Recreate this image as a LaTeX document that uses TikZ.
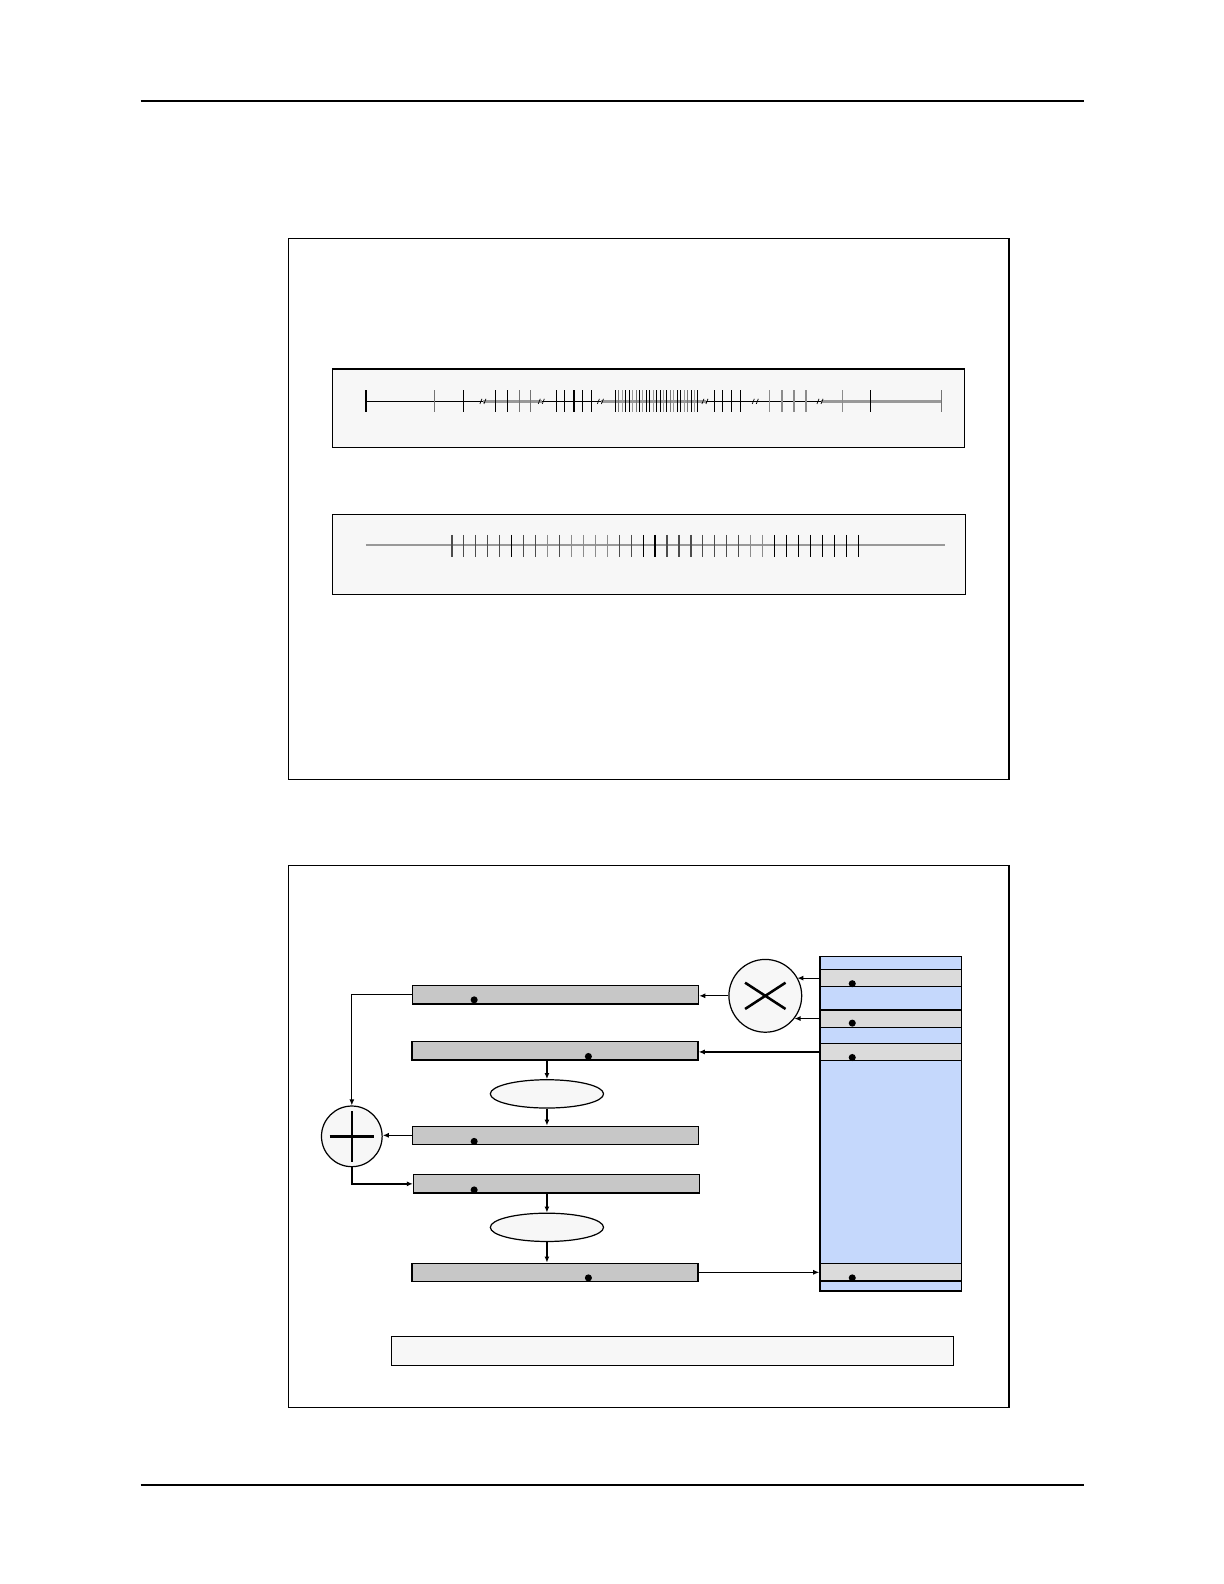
\documentclass[tikz,border=0pt]{standalone}
\usepackage{tikz}
\usetikzlibrary{calc,positioning,shapes.geometric,arrows.meta}
\definecolor{storeblue}{RGB}{197,216,252}
\def\brk(#1,#2){\draw[line width=0.7pt] (#1-3.5,#2+2.5) -- (#1-1.5,#2-2.5) (#1+0.5,#2+2.5) -- (#1+2.5,#2-2.5);}
\tikzset{
	bar/.style={draw, line width=1.2pt, fill=black!22, minimum width=283pt, minimum height=18pt, inner sep=0pt},
	band/.style={draw, line width=1.2pt, fill=black!14, minimum width=140pt, minimum height=17pt, inner sep=0pt},
	oval/.style={draw, line width=1.2pt, ellipse, fill=black!3, minimum width=112pt, minimum height=28pt, inner sep=0pt},
	op/.style={draw, line width=1.2pt, circle, fill=black!3, minimum size=#1, inner sep=0pt},
	arr/.style={line width=1.2pt, -{Latex[length=6pt,width=5pt]}},
}
\begin{document}
\begin{tikzpicture}[x=1pt, y=-1pt]
			%%%%% START %%%%%
			\useasboundingbox (0,0) rectangle (1210.7,1566.8);
			
			\draw[line width=1.3pt] (139,100) -- (1072,100);
			\draw[line width=1.3pt] (139,1469) -- (1072,1469);
			
			\node[draw, line width=1.1pt, minimum width=713pt, minimum height=535pt, inner sep=0pt] (frameA) at (641.5,503.5) {};
			\node[draw, line width=1.1pt, minimum width=713pt, minimum height=536pt, inner sep=0pt] (frameB) at (641.5,1124) {};
			
			%%%%% strips %%%%%
			\node[draw, line width=1.2pt, fill=black!3, minimum width=625pt, minimum height=78pt, inner sep=0pt] (stripA) at (641.5,404) {};
			\node[draw, line width=1.2pt, fill=black!3, minimum width=626pt, minimum height=79pt, inner sep=0pt] (stripB) at (642,548.5) {};
			
			\draw[line width=1.2pt] (362,397) -- (478,397);
			\draw[line width=2.4pt, color=black!40] (478,397) -- (536,397);
			\draw[line width=1.2pt] (536,397) -- (594,397);
			\draw[line width=2.4pt, color=black!40] (594,397) -- (698,397);
			\draw[line width=1.2pt] (698,397) -- (812,397);
			\draw[line width=2.4pt, color=black!40] (812,397) -- (931,397);
			
			\foreach \x/\k in {362/100, 429.6/55, 458.3/100, 490.1/100, 502.1/100, 514/55, 525.1/55, 550.6/100, 558.6/100, 567.7/100, 576.5/100, 584.8/100, 707/100, 714.9/100, 723.7/100, 732.8/100, 761.5/45, 773.4/45, 785.4/45, 797.3/45, 833.1/45, 861/100, 931/55}
				\draw[line width=1.2pt, color=black!\k] (\x,386) -- (\x,408);
			\foreach \i in {0,...,24}{
				\pgfmathtruncatemacro\k{mod(\i,3)==2 ? 40 : (mod(\i,5)==1 ? 55 : 100)}
				\draw[line width=1pt, color=black!\k] (608.7+\i*3.4,386) -- (608.7+\i*3.4,408);
			}
			\foreach \x in {478.2,535.9,594.4,697.8,747.6,811.6}{
				\brk(\x,397)
			}
			
			\draw[line width=2.4pt, color=black!40] (362,539) -- (935,539);
			\foreach \i in {0,...,34}{
				\pgfmathtruncatemacro\k{(\i==8 || \i==10 || \i==11 || \i==12 || \i==13 || \i==25 || \i==26) ? 45 : ((\i==5 || \i==16 || \i==17 || \i>26) ? 100 : 70)}
				\draw[line width=1.2pt, color=black!\k] (447+\i*11.82,529) -- (447+\i*11.82,551);
			}
			
			%%%%% store %%%%%
			\node[draw, line width=1.2pt, fill=storeblue, minimum width=140pt, minimum height=331pt, inner sep=0pt] (store) at (881,1111.5) {};
			\node[band] (band1) at (881,967.5) {};
			\node[band] (band2) at (881,1007.5) {};
			\node[band] (band3) at (881,1040.5) {};
			\node[band] (band4) at (881,1258.5) {};
			\foreach \y in {973,1012,1046,1264}
				\fill (843,\y) circle (3.5);
			
			%%%%% bars %%%%%
			\node[bar] (barA) at (549.5,984) {};
			\node[bar] (barB) at (549,1039.5) {};
			\node[bar] (barC) at (549.5,1123) {};
			\node[bar] (barD) at (550.5,1171) {};
			\node[bar] (barE) at (549,1258.5) {};
			\node[oval] (oval1) at (541,1082) {};
			\node[oval] (oval2) at (541,1214) {};
			\fill (469,989) circle (3.5);
			\fill (582,1045) circle (3.5);
			\fill (469,1129) circle (3.5);
			\fill (469,1177) circle (3.5);
			\fill (582,1264) circle (3.5);
			
			\node[op=72pt] (mul) at (757,985) {};
			\draw[line width=2.5pt] (737,972) -- (777,998) (737,998) -- (777,972);
			\node[op=60pt] (add) at (348,1124) {};
			\draw[line width=2.5pt] (326,1124) -- (370,1124) (348,1099) -- (348,1149);
			
			\node[draw, line width=1.2pt, fill=black!3, minimum width=556pt, minimum height=29pt, inner sep=0pt] (note) at (665,1336.5) {};
			
			%%%%% arrows %%%%%
			\draw[arr] (band1.west) -- (band1.west -| mul.30);
			\draw[arr] (band2.west) -- (band2.west -| mul.-38);
			\draw[arr] (mul.west) -- (mul.west -| barA.east);
			\draw[arr] (band3.west) -- (band3.west -| barB.east);
			\draw[arr] (barA.west) -| (add.north);
			\draw[arr] (oval1.north |- barB.south) -- (oval1.north);
			\draw[arr] (oval1.south) -- (oval1.south |- barC.north);
			\draw[arr] (barC.west) -- (barC.west -| add.east);
			\draw[arr, line width=1.8pt] (add.south) |- (barD.west);
			\draw[arr] (oval2.north |- barD.south) -- (oval2.north);
			\draw[arr] (oval2.south) -- (oval2.south |- barE.north);
			\draw[arr] (barE.east) -- (band4.west);
			
			%%%%% END %%%%%
\end{tikzpicture}
\end{document}
